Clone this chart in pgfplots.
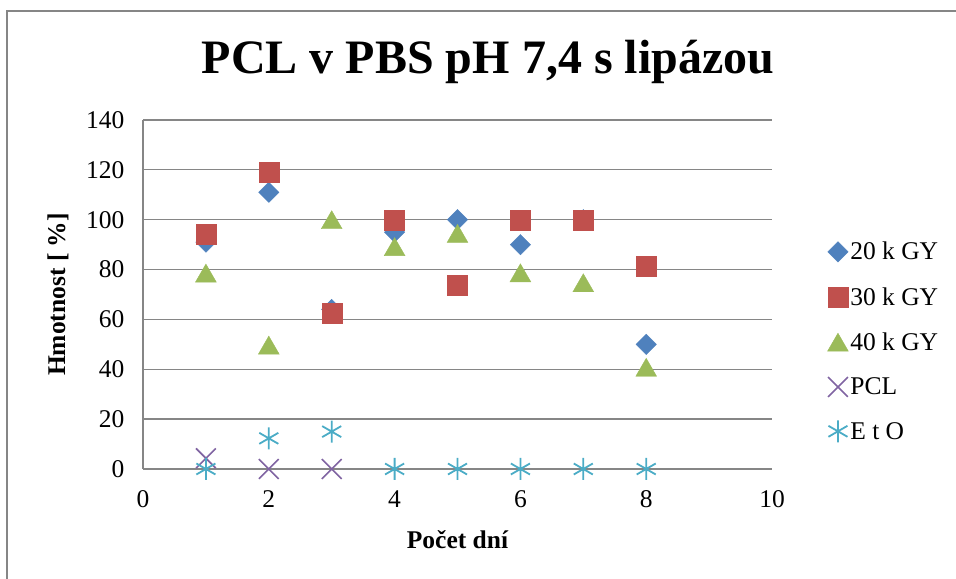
\documentclass[border=0pt]{standalone}
\usepackage{pgfplots}
\pgfplotsset{compat=1.18}
\usepackage{fontspec}
\setmainfont{Liberation Serif}
\definecolor{gridgray}{HTML}{868686}
\definecolor{cblue}{HTML}{4F81BD}
\definecolor{cred}{HTML}{C0504D}
\definecolor{cgreen}{HTML}{9BBB59}
\definecolor{cpurple}{HTML}{8064A2}
\definecolor{ccyan}{HTML}{4BACC6}
\begin{document}
\begin{tikzpicture}[x=1bp,y=1bp]
\useasboundingbox (0,0) rectangle (956,579);
\draw[gridgray, line width=1.5bp] (7,0) -- (7,568) -- (956,568);
\node[font=\fontsize{48bp}{56bp}\selectfont\bfseries] at (488,517) {PCL v PBS pH 7,4 s lipázou};
\begin{axis}[
  at={(143bp,110bp)}, anchor=south west,
  scale only axis, width=629bp, height=349bp,
  xmin=0, xmax=10, ymin=0, ymax=140,
  xtick={0,2,...,10}, ytick={0,20,...,140},
  ymajorgrids,
  major grid style={color=gridgray, line width=1.3bp},
  axis lines*=left,
  axis line style={gridgray, line width=1.3bp},
  tick style={draw=none},
  clip=false,
  /pgf/number format/assume math mode=true,
  tick label style={font=\fontsize{25.5bp}{30bp}\selectfont},
  xticklabel style={yshift=-18bp},
  yticklabel style={xshift=-15bp},
  xlabel={Počet dní},
  ylabel={Hmotnost [ \%]},
  label style={font=\fontsize{25.5bp}{30bp}\selectfont\bfseries},
  xlabel style={at={(axis description cs:0.5,-0.203)}, anchor=center},
  ylabel style={at={(axis description cs:-0.135,0.5)}, anchor=center},
  legend style={draw=none, fill=none, at={(axis description cs:1.088,0.656)}, anchor=north west,
    font=\fontsize{25.5bp}{30bp}\selectfont, row sep=22bp, inner sep=0pt},
  legend cell align=left,
  legend image code/.code={\draw[#1] plot coordinates {(5bp,0bp)};},
]
\addplot[only marks, mark=square*, mark size=7.2bp, mark options={rotate=45, fill=cblue, draw=cblue}]
  coordinates {(1,91) (2,111) (3,64) (4,95) (5,100) (6,90) (7,100) (8,50)};
\addlegendentry{20 k GY}
\addplot[only marks, mark=square*, mark size=10bp, mark options={fill=cred, draw=cred}]
  coordinates {(1,94) (2,119) (3,62.4) (4,100) (5,73.8) (6,100) (7,100) (8,81.4)};
\addlegendentry{30 k GY}
\addplot[only marks, mark=triangle*, mark size=12bp, mark options={fill=cgreen, draw=cgreen, yshift=-3bp}]
  coordinates {(1,78.6) (2,49.7) (3,100) (4,89.2) (5,94.5) (6,78.7) (7,74.7) (8,40.8)};
\addlegendentry{40 k GY}
\addplot[only marks, mark=x, mark size=14bp, mark options={draw=cpurple, line width=1.6bp}]
  coordinates {(1,4.3) (2,0) (3,0)};
\addlegendentry{PCL}
\addplot[only marks, mark=asterisk, mark size=11bp, mark options={draw=ccyan, line width=1.8bp}]
  coordinates {(1,0) (2,12.3) (3,15) (4,0) (5,0) (6,0) (7,0) (8,0)};
\addlegendentry{E t O}
\end{axis}
\end{tikzpicture}
\end{document}
